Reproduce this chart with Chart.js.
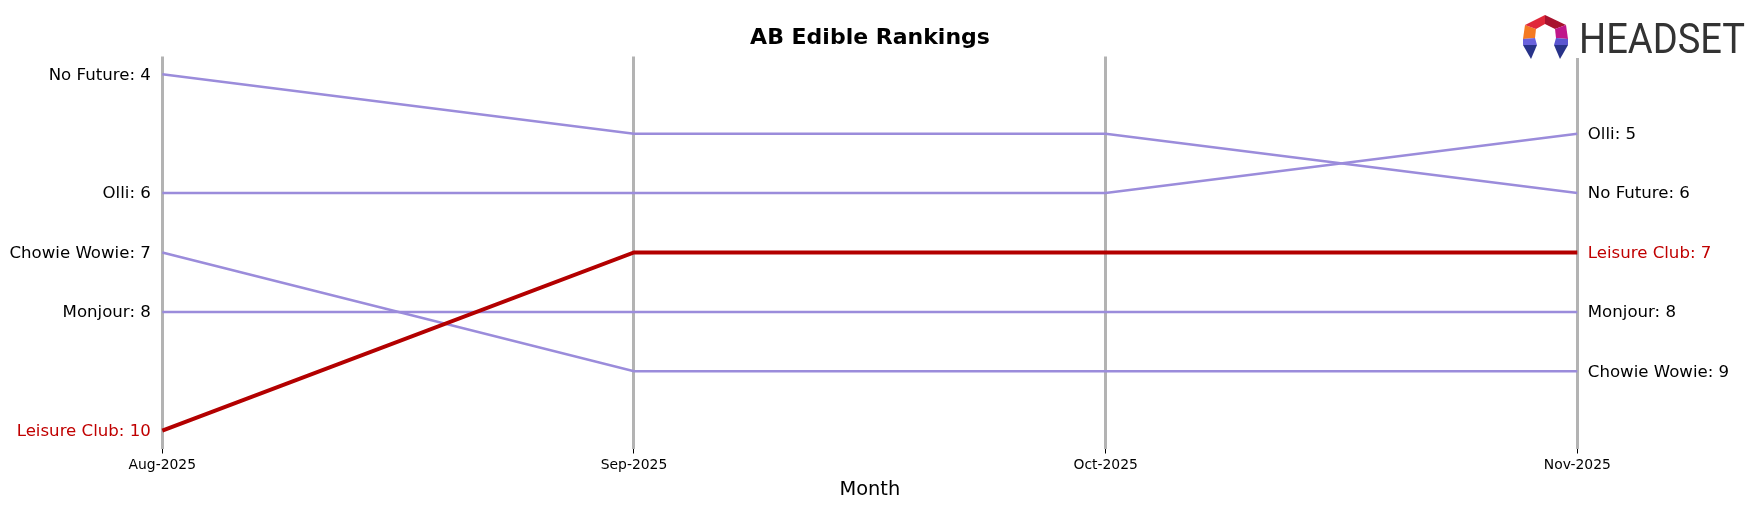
<!DOCTYPE html>
<html>
<head>
<meta charset="utf-8">
<script src="https://cdn.jsdelivr.net/npm/chart.js@4"></script>
<style>
  body { margin: 0; background: #fff; }
  canvas { display: block; }
</style>
</head>
<body>
<canvas id="myChart" width="1760" height="507"></canvas>
<script>
// datos del grafico
const months = ['Aug-2025', 'Sep-2025', 'Oct-2025', 'Nov-2025'];
const brands = ['No Future', 'Olli', 'Chowie Wowie', 'Monjour', 'Leisure Club'];
const noFuture = [4, 5, 5, 6];
const olli = [6, 6, 6, 5];
const chowieWowie = [7, 9, 9, 9];
const monjour = [8, 8, 8, 8];
const leisureClub = [10, 7, 7, 7];
const highlight = 'Leisure Club';

const seriesValues = [noFuture, olli, chowieWowie, monjour, leisureClub];
const font = '"DejaVu Sans", sans-serif';

const datasets = brands.map(function(name, i) {
    const hot = name === highlight;
    return {
        label: name,
        data: seriesValues[i],
        borderColor: hot ? '#b30000' : '#9b8cdb',
        borderWidth: hot ? 4 : 2.5,
        pointRadius: 0,
        tension: 0,
        order: hot ? 0 : 1
    };
});

// etiquetas a los lados, titulo y logo
const extras = {
    id: 'extras',
    afterDraw: function(chart) {
        const ctx = chart.ctx;
        const xs = chart.scales.x;
        const ys = chart.scales.y;
        ctx.save();
        ctx.font = '16.6px ' + font;
        ctx.textBaseline = 'middle';
        chart.data.datasets.forEach(function(ds) {
            const color = ds.label === highlight ? '#c00000' : '#000';
            ctx.fillStyle = color;
            const first = ds.data[0];
            const last = ds.data[ds.data.length - 1];
            ctx.textAlign = 'right';
            ctx.fillText(ds.label + ': ' + first, xs.getPixelForValue(0) - 11.5, ys.getPixelForValue(first) + 1);
            ctx.textAlign = 'left';
            ctx.fillText(ds.label + ': ' + last, xs.getPixelForValue(ds.data.length - 1) + 10.5, ys.getPixelForValue(last) + 1);
        });

        // titulo
        ctx.fillStyle = '#000';
        ctx.font = 'bold 22px ' + font;
        ctx.textAlign = 'center';
        ctx.fillText('AB Edible Rankings', 870, 38);

        // logo
        ctx.fillStyle = '#fff';
        ctx.fillRect(1518, 10, 236, 48);
        const poly = function(color, pts) {
            ctx.fillStyle = color;
            ctx.beginPath();
            ctx.moveTo(pts[0][0], pts[0][1]);
            for (let k = 1; k < pts.length; k++) ctx.lineTo(pts[k][0], pts[k][1]);
            ctx.closePath();
            ctx.fill();
        };
        poly('#f47a22', [[1525, 25], [1536, 29], [1535, 38], [1523, 39]]);
        poly('#e0283a', [[1525, 25], [1545, 15], [1545, 24], [1536, 29]]);
        poly('#a8122e', [[1545, 15], [1566, 25], [1555, 29], [1545, 24]]);
        poly('#c0178a', [[1566, 25], [1568, 39], [1556, 38], [1555, 29]]);
        poly('#6a62dc', [[1523, 39], [1535, 38], [1537, 45], [1523, 45]]);
        poly('#5a55d0', [[1556, 38], [1568, 39], [1568, 45], [1554, 45]]);
        poly('#283389', [[1523, 45], [1537, 45], [1531, 59]]);
        poly('#283389', [[1554, 45], [1568, 45], [1560, 59]]);

        ctx.fillStyle = '#333';
        ctx.font = '42px Roboto';
        ctx.textAlign = 'left';
        ctx.textBaseline = 'alphabetic';
        const w = ctx.measureText('HEADSET').width;
        ctx.translate(1579, 53);
        ctx.scale(166 / w, 1);
        ctx.fillText('HEADSET', 0, 0);
        ctx.restore();
    }
};

const myChart = new Chart(document.getElementById('myChart').getContext('2d'), {
    type: 'line',
    data: {
        labels: months,
        datasets: datasets
    },
    options: {
        responsive: false,
        animation: false,
        devicePixelRatio: 1,
        layout: {
            padding: { left: 162.3, right: 182.7, top: 56.5, bottom: 0 }
        },
        plugins: {
            legend: { display: false },
            tooltip: { enabled: false }
        },
        scales: {
            x: {
                offset: false,
                afterFit: function(scale) { scale.height = 58.5; },
                grid: {
                    color: '#b3b3b3',
                    lineWidth: 3,
                    drawTicks: true,
                    tickLength: 5,
                    tickColor: '#000',
                    tickWidth: 1
                },
                border: { display: false },
                ticks: {
                    color: '#000',
                    font: { family: font, size: 13.9 },
                    padding: 4,
                    maxRotation: 0
                },
                title: {
                    display: true,
                    text: 'Month',
                    color: '#000',
                    font: { family: font, size: 19.4 },
                    padding: { top: 0, bottom: 5 }
                }
            },
            y: {
                display: false,
                reverse: true,
                min: 3.7,
                max: 10.3
            }
        }
    },
    plugins: [extras]
});
</script>
</body>
</html>
